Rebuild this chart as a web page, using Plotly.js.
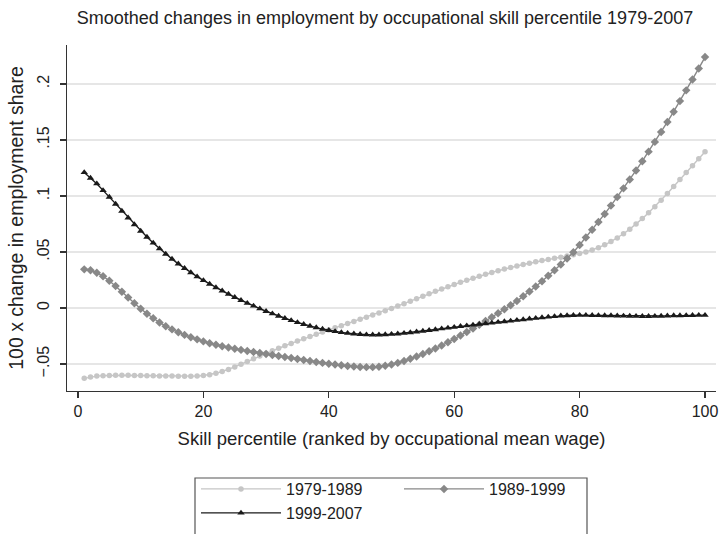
<!DOCTYPE html>
<html>
<head>
<meta charset="utf-8">
<script src="https://cdn.plot.ly/plotly-3.0.1.min.js"></script>
<style>html,body{margin:0;padding:0;background:#fff;}#chart{width:719px;height:534px;}</style>
</head>
<body>
<div id="chart"></div>
<script>
// Skill percentile 1..100
const percentile = Array.from({length: 100}, (_, i) => i + 1);

const seriesNames = ["1979-1989", "1989-1999", "1999-2007"];

const change1979_1989 = [
 -0.0628,-0.0616,-0.0608,-0.0604,-0.0602,-0.0601,-0.0601,-0.0601,-0.0602,-0.0603,
 -0.0604,-0.0605,-0.0606,-0.0607,-0.0608,-0.0609,-0.0610,-0.0610,-0.0608,-0.0603,
 -0.0595,-0.0583,-0.0567,-0.0548,-0.0526,-0.0502,-0.0478,-0.0453,-0.0428,-0.0404,
 -0.0381,-0.0359,-0.0337,-0.0316,-0.0295,-0.0275,-0.0255,-0.0235,-0.0215,-0.0196,
 -0.0177,-0.0158,-0.0139,-0.0120,-0.0101,-0.0082,-0.0063,-0.0044,-0.0025,-0.0005,
 0.0017,0.0039,0.0061,0.0083,0.0105,0.0127,0.0149,0.0170,0.0190,0.0210,
 0.0229,0.0248,0.0266,0.0284,0.0301,0.0317,0.0333,0.0348,0.0362,0.0375,
 0.0388,0.0400,0.0412,0.0423,0.0434,0.0444,0.0454,0.0464,0.0475,0.0487,
 0.0501,0.0518,0.0539,0.0564,0.0593,0.0626,0.0663,0.0704,0.0749,0.0798,
 0.0850,0.0905,0.0963,0.1023,0.1085,0.1147,0.1209,0.1271,0.1333,0.1395
];

const change1989_1999 = [
 0.0345,0.0337,0.0315,0.0283,0.0243,0.0196,0.0145,0.0093,0.0042,-0.0006,
 -0.0051,-0.0092,-0.0129,-0.0162,-0.0191,-0.0217,-0.0240,-0.0261,-0.0280,-0.0298,
 -0.0314,-0.0328,-0.0341,-0.0353,-0.0364,-0.0374,-0.0383,-0.0392,-0.0401,-0.0410,
 -0.0419,-0.0428,-0.0437,-0.0446,-0.0455,-0.0464,-0.0473,-0.0482,-0.0490,-0.0498,
 -0.0505,-0.0511,-0.0517,-0.0522,-0.0526,-0.0528,-0.0528,-0.0524,-0.0516,-0.0505,
 -0.0490,-0.0473,-0.0454,-0.0433,-0.0411,-0.0387,-0.0362,-0.0335,-0.0306,-0.0276,
 -0.0246,-0.0215,-0.0183,-0.0150,-0.0116,-0.0082,-0.0047,-0.0011,0.0025,0.0062,
 0.0104,0.0147,0.0192,0.0239,0.0287,0.0337,0.0389,0.0442,0.0497,0.0562,
 0.0629,0.0698,0.0768,0.0840,0.0914,0.0990,0.1068,0.1147,0.1228,0.1311,
 0.1396,0.1483,0.1571,0.1661,0.1753,0.1847,0.1943,0.2040,0.2139,0.2240
];

const change1999_2007 = [
 0.1210,0.1160,0.1110,0.1050,0.0990,0.0928,0.0866,0.0805,0.0745,0.0687,
 0.0633,0.0581,0.0530,0.0482,0.0437,0.0394,0.0354,0.0316,0.0280,0.0246,
 0.0214,0.0183,0.0153,0.0124,0.0096,0.0069,0.0043,0.0018,-0.0006,-0.0029,
 -0.0051,-0.0072,-0.0092,-0.0111,-0.0129,-0.0146,-0.0161,-0.0175,-0.0188,-0.0199,
 -0.0209,-0.0218,-0.0225,-0.0231,-0.0235,-0.0238,-0.0239,-0.0239,-0.0237,-0.0234,
 -0.0230,-0.0225,-0.0219,-0.0213,-0.0206,-0.0199,-0.0192,-0.0185,-0.0178,-0.0171,
 -0.0164,-0.0158,-0.0151,-0.0145,-0.0139,-0.0133,-0.0127,-0.0121,-0.0115,-0.0109,
 -0.0103,-0.0097,-0.0091,-0.0085,-0.0080,-0.0075,-0.0070,-0.0067,-0.0065,-0.0064,
 -0.0064,-0.0065,-0.0066,-0.0067,-0.0068,-0.0070,-0.0071,-0.0072,-0.0073,-0.0074,
 -0.0074,-0.0073,-0.0072,-0.0070,-0.0068,-0.0067,-0.0066,-0.0065,-0.0064,-0.0064
];

const xTickVals = [0, 20, 40, 60, 80, 100];
const xTickText = ["0", "20", "40", "60", "80", "100"];
const yTickVals = [-0.05, 0, 0.05, 0.1, 0.15, 0.2];
const yTickText = ["\u2212.05", "0", ".05", ".1", ".15", ".2"];

const FONT = "Liberation Sans, Arial, Helvetica, sans-serif";
const INK = "#222222";

const traces = [
  {x: percentile, y: change1979_1989, name: seriesNames[0], type: "scatter", mode: "lines+markers", legend: "legend",
   line: {color: "#c6c6c6", width: 1.4}, marker: {symbol: "circle", size: 5.5, color: "#c6c6c6"}},
  {x: percentile, y: change1989_1999, name: seriesNames[1], type: "scatter", mode: "lines+markers", legend: "legend",
   line: {color: "#888888", width: 1.4}, marker: {symbol: "diamond", size: 6.5, color: "#888888"}},
  {x: percentile, y: change1999_2007, name: seriesNames[2], type: "scatter", mode: "lines+markers", legend: "legend2",
   line: {color: "#1a1a1a", width: 1.4}, marker: {symbol: "triangle-up", size: 6.5, color: "#1a1a1a"}}
];

const W = 719, H = 534;
const mL = 67, mR = 3, mT = 45, mB = 143;
const plotW = W - mL - mR, plotH = H - mT - mB;
const px2x = p => (p - mL) / plotW;
const py2y = p => (H - mB - p) / plotH;

const legendBase = {orientation: "h", xanchor: "left", yanchor: "top",
  bgcolor: "rgba(0,0,0,0)", borderwidth: 0, itemwidth: 80, entrywidth: 108, entrywidthmode: "pixels",
  font: {family: FONT, size: 16, color: INK}, itemclick: false};

const layout = {
  width: W, height: H,
  margin: {l: mL, r: mR, t: mT, b: mB, autoexpand: false},
  paper_bgcolor: "#ffffff", plot_bgcolor: "#ffffff",
  font: {family: FONT, color: INK, size: 15},
  title: {text: "Smoothed changes in employment by occupational skill percentile 1979-2007",
          font: {family: FONT, size: 18, color: INK}, x: 0.49, xref: "paper", xanchor: "center",
          y: 1 - 18 / H, yref: "container", yanchor: "middle"},
  xaxis: {range: [-1.75, 101.75], tickvals: xTickVals, ticktext: xTickText, showgrid: false, zeroline: false,
          showline: true, linecolor: "#333333", linewidth: 1.2, ticks: "outside", ticklen: 6, tickcolor: "#333333",
          tickwidth: 1.2, tickfont: {family: FONT, size: 16, color: INK},
          title: {text: "Skill percentile (ranked by occupational mean wage)", font: {family: FONT, size: 18.5, color: INK}, standoff: 12}},
  yaxis: {range: [-0.0741, 0.2348], tickvals: yTickVals, ticktext: yTickText, showgrid: true, gridcolor: "#e6e6e6",
          gridwidth: 1.4, zeroline: false, showline: true, linecolor: "#333333", linewidth: 1.2, ticks: "outside",
          ticklen: 6, tickcolor: "#333333", tickwidth: 1.2, tickangle: -90, ticklabelstandoff: 4,
          tickfont: {family: FONT, size: 16, color: INK},
          title: {text: "100 x change in employment share", font: {family: FONT, size: 19.5, color: INK}, standoff: 6}},
  showlegend: true,
  legend: Object.assign({}, legendBase, {x: px2x(196), y: py2y(472)}),
  legend2: Object.assign({}, legendBase, {x: px2x(196), y: py2y(496)}),
  shapes: [
    {type: "rect", xref: "paper", yref: "paper", x0: px2x(195), x1: px2x(587), y0: py2y(478), y1: py2y(600),
     line: {color: "#555555", width: 1.2}, fillcolor: "rgba(0,0,0,0)", layer: "below"}
  ]
};

Plotly.newPlot("chart", traces, layout, {displayModeBar: false, staticPlot: true});
</script>
</body>
</html>
